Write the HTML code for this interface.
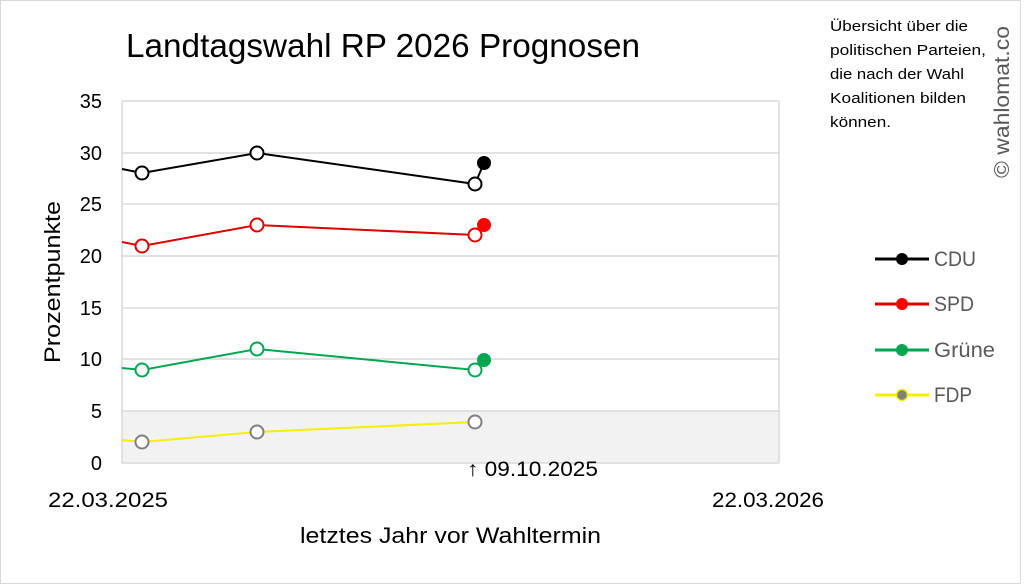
<!DOCTYPE html>
<html><head><meta charset="utf-8"><style>
body{margin:0;background:#fff}
svg{display:block;font-family:"Liberation Sans",sans-serif}
</style></head><body>
<svg width="1024" height="585" viewBox="0 0 1024 585">
<rect x="0.5" y="0.5" width="1020" height="583" fill="#fff" stroke="#d9d9d9"/>
<text x="126" y="57" font-size="33" fill="#000" textLength="514" lengthAdjust="spacingAndGlyphs">Landtagswahl RP 2026 Prognosen</text>
<rect x="122" y="411" width="657" height="52" fill="#f2f2f2"/>
<g stroke="#d9d9d9" stroke-width="1.5">
<line x1="122" y1="101" x2="779" y2="101"/><line x1="122" y1="153" x2="779" y2="153"/>
<line x1="122" y1="204" x2="779" y2="204"/><line x1="122" y1="256" x2="779" y2="256"/>
<line x1="122" y1="308" x2="779" y2="308"/><line x1="122" y1="359" x2="779" y2="359"/>
<line x1="122" y1="411" x2="779" y2="411"/><line x1="122" y1="463" x2="779" y2="463"/>
<line x1="122" y1="101" x2="122" y2="463"/><line x1="779" y1="101" x2="779" y2="463"/>
</g>
<g font-size="20" fill="#000" text-anchor="end">
<text x="102" y="108">35</text><text x="102" y="160">30</text><text x="102" y="211">25</text>
<text x="102" y="263">20</text><text x="102" y="315">15</text><text x="102" y="366">10</text>
<text x="102" y="418">5</text><text x="102" y="470">0</text>
</g>
<text transform="translate(60,282) rotate(-90)" font-size="22" text-anchor="middle" textLength="162" lengthAdjust="spacingAndGlyphs">Prozentpunkte</text>
<text x="48" y="507" font-size="21" textLength="120" lengthAdjust="spacingAndGlyphs">22.03.2025</text>
<text x="712" y="507" font-size="21" textLength="112" lengthAdjust="spacingAndGlyphs">22.03.2026</text>
<text x="300" y="543" font-size="22" textLength="301" lengthAdjust="spacingAndGlyphs">letztes Jahr vor Wahltermin</text>
<text x="467" y="476" font-size="21" textLength="131" lengthAdjust="spacingAndGlyphs">↑ 09.10.2025</text>
<g fill="none" stroke-width="2">
<polyline points="122,169 142,173 257,153 475,184 484,163" stroke="#000"/>
<polyline points="122,242 142,246 257,225 475,235 484,225" stroke="#e00000"/>
<polyline points="122,368 142,370 257,349 475,370 484,360" stroke="#00a650"/>
<polyline points="122,440 142,442 257,432 475,422" stroke="#f5f000"/>
</g>
<g fill="#fff" stroke-width="2">
<g stroke="#000"><circle cx="142" cy="173" r="6.5"/><circle cx="257" cy="153" r="6.5"/><circle cx="475" cy="184" r="6.5"/></g>
<g stroke="#e00000"><circle cx="142" cy="246" r="6.5"/><circle cx="257" cy="225" r="6.5"/><circle cx="475" cy="235" r="6.5"/></g>
<g stroke="#00a650"><circle cx="142" cy="370" r="6.5"/><circle cx="257" cy="349" r="6.5"/><circle cx="475" cy="370" r="6.5"/></g>
<g stroke="#7f7f7f"><circle cx="142" cy="442" r="6.5"/><circle cx="257" cy="432" r="6.5"/><circle cx="475" cy="422" r="6.5"/></g>
</g>
<circle cx="484" cy="163" r="7" fill="#000"/>
<circle cx="484" cy="225" r="7" fill="#ff0000"/>
<circle cx="484" cy="360" r="7" fill="#00a650"/>
<g font-size="15" fill="#000">
<text x="830" y="31" textLength="138" lengthAdjust="spacingAndGlyphs">Übersicht über die</text>
<text x="830" y="55" textLength="156" lengthAdjust="spacingAndGlyphs">politischen Parteien,</text>
<text x="830" y="79" textLength="134" lengthAdjust="spacingAndGlyphs">die nach der Wahl</text>
<text x="830" y="103" textLength="136" lengthAdjust="spacingAndGlyphs">Koalitionen bilden</text>
<text x="830" y="127" textLength="61" lengthAdjust="spacingAndGlyphs">können.</text>
</g>
<text transform="translate(1009,178) rotate(-90)" font-size="21" fill="#595959" textLength="152" lengthAdjust="spacingAndGlyphs">© wahlomat.co</text>
<g stroke-width="3">
<line x1="875" y1="259" x2="929" y2="259" stroke="#000"/><circle cx="902" cy="259" r="6" fill="#000"/>
<line x1="875" y1="304" x2="929" y2="304" stroke="#e00000"/><circle cx="902" cy="304" r="6" fill="#ff0000" stroke="none"/>
<line x1="875" y1="350" x2="929" y2="350" stroke="#00a650"/><circle cx="902" cy="350" r="6" fill="#00a650" stroke="none"/>
<line x1="875" y1="395" x2="929" y2="395" stroke="#f5f000"/><circle cx="902" cy="395" r="5.5" fill="#7f7f7f" stroke="#f5f000" stroke-width="1.5"/>
</g>
<g font-size="21" fill="#595959">
<text x="934" y="266" textLength="42" lengthAdjust="spacingAndGlyphs">CDU</text><text x="934" y="311" textLength="40" lengthAdjust="spacingAndGlyphs">SPD</text>
<text x="934" y="357" textLength="61" lengthAdjust="spacingAndGlyphs">Grüne</text><text x="934" y="402" textLength="38" lengthAdjust="spacingAndGlyphs">FDP</text>
</g>
</svg>
</body></html>
